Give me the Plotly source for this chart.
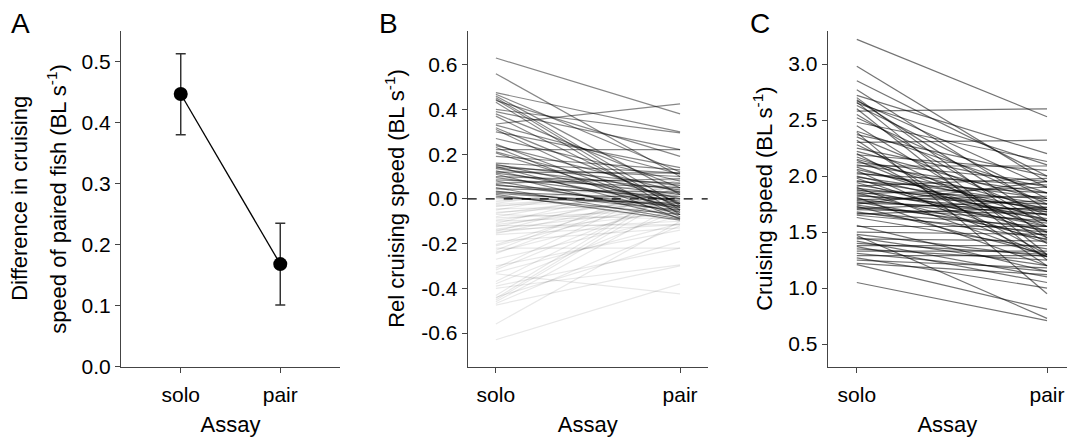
import plotly.graph_objects as go

# ---------------- data ----------------
assay = ["solo", "pair"]

# Panel A: difference in cruising speed of paired fish
a_mean = [0.447, 0.168]
a_lo = [0.380, 0.101]
a_hi = [0.513, 0.235]

# Panel B: relative cruising speed (dark = faster fish in solo; light = its mirror partner)
b_solo = [0.63, 0.56, 0.475, 0.468, 0.46, 0.452, 0.445, 0.44, 0.432, 0.40,
          0.39, 0.38, 0.37, 0.335, 0.33, 0.318, 0.31, 0.30, 0.27, 0.245,
          0.238, 0.23, 0.22, 0.21, 0.205, 0.19, 0.16, 0.155, 0.15, 0.145,
          0.14, 0.135, 0.125, 0.12, 0.115, 0.11, 0.10, 0.095, 0.085, 0.08,
          0.07, 0.065, 0.06, 0.05, 0.045, 0.035, 0.03, 0.025, 0.02, 0.012, 0.005]
b_pair = [0.38, 0.10, 0.30, 0.12, 0.02, -0.03, -0.05, 0.19, -0.07, 0.295,
          0.22, 0.05, -0.04, 0.425, 0.11, -0.02, -0.08, 0.14, 0.08, -0.06,
          0.03, -0.09, 0.22, 0.0, -0.05, 0.13, 0.115, -0.02, 0.06, -0.07,
          0.10, 0.04, -0.035, 0.115, 0.02, -0.085, 0.07, -0.01, 0.05, -0.06,
          0.09, -0.04, 0.01, -0.09, 0.03, -0.05, 0.0, -0.03, -0.095, -0.07, -0.02]

# Panel C: cruising speed of individual fish
c_solo = [3.22, 2.98, 2.85, 2.77, 2.72, 2.70, 2.68, 2.67, 2.66, 2.65,
          2.63, 2.60, 2.58, 2.55, 2.52, 2.48, 2.45, 2.40, 2.39, 2.37,
          2.35, 2.32, 2.30, 2.28, 2.25, 2.22, 2.20, 2.19, 2.17, 2.15,
          2.14, 2.12, 2.10, 2.09, 2.08, 2.06, 2.05, 2.03, 2.02, 2.00,
          1.99, 1.98, 1.96, 1.95, 1.94, 1.92, 1.91, 1.90, 1.89, 1.88,
          1.87, 1.86, 1.85, 1.84, 1.83, 1.82, 1.81, 1.80, 1.79, 1.78,
          1.77, 1.76, 1.75, 1.74, 1.73, 1.72, 1.71, 1.70, 1.68, 1.67,
          1.66, 1.65, 1.63, 1.56, 1.55, 1.50, 1.48, 1.47, 1.45, 1.44,
          1.42, 1.40, 1.38, 1.37, 1.35, 1.33, 1.31, 1.29, 1.27, 1.25,
          1.22, 1.21, 1.05]
c_pair = [2.53, 1.95, 2.00, 1.70, 2.20, 1.45, 1.60, 1.90, 1.30, 2.10,
          1.80, 1.25, 2.60, 1.55, 1.75, 2.13, 1.40, 1.85, 0.95, 2.00,
          1.65, 1.20, 2.32, 1.50, 1.90, 1.78, 1.30, 2.05, 1.60, 1.70,
          1.45, 1.95, 1.85, 2.09, 1.55, 1.68, 1.28, 1.80, 1.92, 1.60,
          1.75, 1.40, 1.70, 1.85, 1.50, 1.65, 1.98, 1.28, 1.72, 1.55,
          1.80, 1.62, 1.43, 1.90, 1.68, 1.75, 1.20, 1.58, 1.82, 1.66,
          1.47, 1.70, 1.95, 1.52, 1.30, 1.60, 1.78, 1.66, 1.44, 1.55,
          1.72, 1.50, 1.35, 1.15, 1.55, 1.48, 1.28, 0.73, 1.20, 1.42,
          1.10, 1.30, 1.38, 1.05, 1.25, 1.33, 1.15, 1.29, 1.00, 1.18,
          1.12, 0.81, 0.71]

a_ticks = [0.0, 0.1, 0.2, 0.3, 0.4, 0.5]
a_ticktext = ["0.0", "0.1", "0.2", "0.3", "0.4", "0.5"]
b_ticks = [-0.6, -0.4, -0.2, 0.0, 0.2, 0.4, 0.6]
b_ticktext = ["-0.6", "-0.4", "-0.2", "0.0", "0.2", "0.4", "0.6"]
c_ticks = [0.5, 1.0, 1.5, 2.0, 2.5, 3.0]
c_ticktext = ["0.5", "1.0", "1.5", "2.0", "2.5", "3.0"]

# ---------------- figure ----------------
W, H = 1067, 437
FONT = "Liberation Sans, Arial, Helvetica, sans-serif"
AXC = "#444444"
TICKF = 21
TITLEF = 22

fig = go.Figure()

# Panel A
fig.add_trace(go.Scatter(
    x=assay, y=a_mean, mode="lines+markers",
    line=dict(color="black", width=1.3),
    marker=dict(color="black", size=14),
    error_y=dict(type="data", symmetric=False,
                 array=[h - m for h, m in zip(a_hi, a_mean)],
                 arrayminus=[m - l for m, l in zip(a_mean, a_lo)],
                 color="#333333", thickness=1.5, width=5),
    xaxis="x", yaxis="y", showlegend=False, hoverinfo="skip"))

# Panel B: light mirror lines first
for s, p in zip(b_solo, b_pair):
    fig.add_trace(go.Scatter(x=assay, y=[-s, -p], mode="lines",
                             line=dict(color="rgba(0,0,0,0.09)", width=1.2),
                             xaxis="x2", yaxis="y2", showlegend=False, hoverinfo="skip"))
for s, p in zip(b_solo, b_pair):
    fig.add_trace(go.Scatter(x=assay, y=[s, p], mode="lines",
                             line=dict(color="rgba(0,0,0,0.47)", width=1.2),
                             xaxis="x2", yaxis="y2", showlegend=False, hoverinfo="skip"))

# Panel C
for s, p in zip(c_solo, c_pair):
    fig.add_trace(go.Scatter(x=assay, y=[s, p], mode="lines",
                             line=dict(color="rgba(0,0,0,0.55)", width=1.2),
                             xaxis="x3", yaxis="y3", showlegend=False, hoverinfo="skip"))

ydom = [1 - 376 / H, 1 - 32 / H]

def xax(dom, rng):
    return dict(domain=dom, range=rng, type="category", categoryorder="array",
                categoryarray=assay, showline=True, linecolor=AXC, linewidth=1.2,
                ticks="outside", ticklen=5, tickcolor=AXC, tickwidth=1.2,
                showgrid=False, zeroline=False, ticklabeloverflow="allow",
                ticklabelstandoff=4,
                tickfont=dict(size=TICKF, color="black", family=FONT),
                title=dict(text="Assay", font=dict(size=TITLEF, color="black", family=FONT),
                           standoff=11))

def yax(anchor, rng, tv, tt):
    return dict(domain=ydom, range=rng, anchor=anchor, tickvals=tv, ticktext=tt,
                showline=True, linecolor=AXC, linewidth=1.2,
                ticks="outside", ticklen=5, tickcolor=AXC, tickwidth=1.2,
                showgrid=False, zeroline=False,
                tickfont=dict(size=TICKF, color="black", family=FONT))

fig.update_layout(
    width=W, height=H,
    margin=dict(l=0, r=0, t=0, b=0),
    paper_bgcolor="white", plot_bgcolor="white",
    font=dict(family=FONT, color="black"),
    xaxis=dict(xax([121 / W, 340 / W], [-0.6, 1.6]), anchor="y"),
    yaxis=yax("x", [0, 0.55], a_ticks, a_ticktext),
    xaxis2=dict(xax([467.7 / W, 707.7 / W], [-0.153, 1.15]), anchor="y2"),
    yaxis2=yax("x2", [-0.75, 0.75], b_ticks, b_ticktext),
    xaxis3=dict(xax([827.7 / W, 1.0], [-0.153, 1.105]), anchor="y3"),
    yaxis3=yax("x3", [0.3, 3.293], c_ticks, c_ticktext),
)

# dashed zero line in B
fig.add_shape(type="line", xref="x2 domain", yref="y2", x0=0, x1=1, y0=0, y1=0,
              line=dict(color="black", width=1.2, dash="dash"))

ymid = 1 - 204 / H
ann = []
def ytitle(xpx, text):
    ann.append(dict(x=xpx / W, y=ymid, xref="paper", yref="paper", text=text,
                    textangle=-90, showarrow=False, xanchor="center", yanchor="middle",
                    font=dict(size=TITLEF, color="black", family=FONT)))

ytitle(20, "Difference in cruising")
ytitle(57, "speed of paired fish (BL s<sup>-1</sup>)")
ytitle(395, "Rel cruising speed (BL s<sup>-1</sup>)")
ytitle(763, "Cruising speed (BL s<sup>-1</sup>)")

for xpx, lab in [(20, "A"), (388, "B"), (760, "C")]:
    ann.append(dict(x=xpx / W, y=1 - 24 / H, xref="paper", yref="paper", text=lab,
                    showarrow=False, xanchor="center", yanchor="middle",
                    font=dict(size=28, color="black", family=FONT)))

fig.update_layout(annotations=ann)

fig.write_html("out.html", config={"displayModeBar": False},
               post_script="document.body.style.margin='0';document.body.style.overflow='hidden';")
